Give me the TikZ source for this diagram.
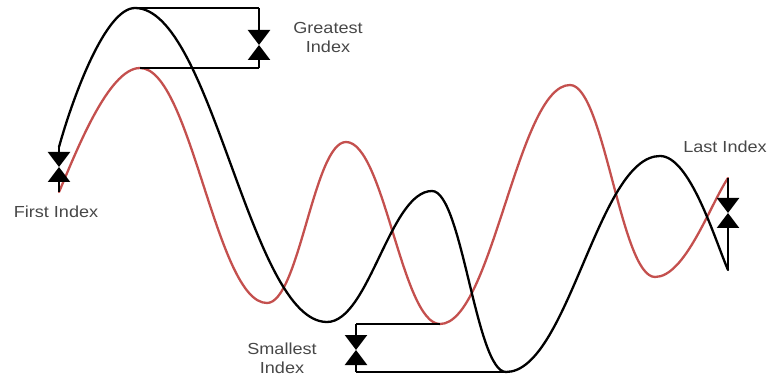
\documentclass[tikz,border=0pt]{standalone}
\usepackage{fontspec}
\usetikzlibrary{arrows.meta}
\newfontfamily\labelfont{Liberation Sans}[FakeStretch=1.13]
\definecolor{wavered}{HTML}{C4504E}
\colorlet{labelgray}{black!72}
\tikzset{curve/.style={line width=2.3pt, line cap=round},
  guide/.style={line width=1.6pt},
  gap/.style={line width=2.5pt, -{Triangle[width=22pt,length=15pt]}},
  lbl/.style={font=\labelfont\fontsize{16}{19}\selectfont, text=labelgray, align=center}}

\begin{document}
\begin{tikzpicture}[x=1pt,y=-1pt]
\useasboundingbox (0,0) rectangle (768,379);
% turning points of the black wave
\coordinate (b0) at (59,147); \coordinate (b1) at (135,8); \coordinate (b2) at (327,322);
\coordinate (b3) at (432,191); \coordinate (b4) at (506,372); \coordinate (b5) at (660,156);
\coordinate (b6) at (728,270);
% turning points of the red wave
\coordinate (r0) at (59,192); \coordinate (r1) at (140,68); \coordinate (r2) at (267,303);
\coordinate (r3) at (346,142); \coordinate (r4) at (440,324); \coordinate (r5) at (570,85);
\coordinate (r6) at (655,277); \coordinate (r7) at (728,178);
\draw[curve, wavered] (r0) .. controls (75,155) and (108,68) .. (r1)
  .. controls (191,68) and (216,303) .. (r2) .. controls (299,303) and (314,142) .. (r3)
  .. controls (384,142) and (402,324) .. (r4) .. controls (492,324) and (518,85) .. (r5)
  .. controls (604,85) and (621,277) .. (r6) .. controls (685,277) and (710,205) .. (r7);
\draw[curve] (b0) .. controls (72,100) and (105,8) .. (b1)
  .. controls (212,8) and (250,322) .. (b2) .. controls (369,322) and (390,191) .. (b3)
  .. controls (462,191) and (476,372) .. (b4) .. controls (568,372) and (598,156) .. (b5)
  .. controls (690,156) and (715,240) .. (b6);
% where the gaps meet
\coordinate (fmid) at (59,167); \coordinate (gmid) at (259,45);
\coordinate (smid) at (356,350); \coordinate (lmid) at (728,213);
\draw[gap] (b0) -- (fmid); \draw[gap] (r0) -- (fmid);
\draw[guide] (b1) -- (b1 -| gmid); \draw[gap] (b1 -| gmid) -- (gmid);
\draw[guide] (r1) -- (r1 -| gmid); \draw[gap] (r1 -| gmid) -- (gmid);
\draw[guide] (r4) -- (r4 -| smid); \draw[gap] (r4 -| smid) -- (smid);
\draw[guide] (b4) -- (b4 -| smid); \draw[gap] (b4 -| smid) -- (smid);
\draw[gap] (r7) -- (lmid); \draw[gap] (b6) -- (lmid);
\node[lbl] (first) at (56,212) {First Index};
\node[lbl] (greatest) at (328,37) {Greatest\\Index};
\node[lbl] (smallest) at (282,358) {Smallest\\Index};
\node[lbl] (last) at (725,147) {Last Index};
\end{tikzpicture}
\end{document}
